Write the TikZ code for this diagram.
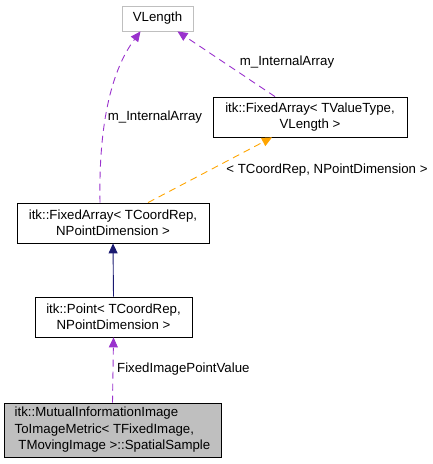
\documentclass[tikz,border=0pt]{standalone}
\usepackage{fontspec}
\setmainfont{Liberation Sans}
\usepackage{tikz}
\usetikzlibrary{arrows.meta, positioning}
\definecolor{usesC}{RGB}{154,50,205}
\definecolor{inhC}{RGB}{25,25,112}
\definecolor{tmplC}{RGB}{255,165,0}
\definecolor{boxgray}{RGB}{191,191,191}

\begin{document}
\begin{tikzpicture}[
    x=1bp,y=-1bp,
    cls/.style={draw=#1,fill=white,inner sep=0pt,line width=0.8bp,
      font=\fontsize{13.3}{16.5}\selectfont,align=center},
    cls/.default=black,
    uses/.style={-{Triangle[length=10bp,width=9bp]},usesC,line width=0.9bp,
      dash pattern=on 7bp off 5bp},
    tmpl/.style={-{Triangle[length=10bp,width=9bp]},tmplC,line width=0.9bp,
      dash pattern=on 7bp off 5bp},
    inh/.style={-{Triangle[length=10bp,width=9bp]},inhC,line width=0.9bp},
    elbl/.style={font=\fontsize{13.3}{16}\selectfont,inner sep=0pt}
  ]
  \useasboundingbox (0,0) rectangle (433,464);

  % classes
  \node[cls=boxgray,minimum width=71bp,minimum height=25bp] (vlen) at (157.5,18.5) {VLength};
  \node[cls,minimum width=194bp,minimum height=40bp] (fatv) at (310,117)
    {itk::FixedArray< TValueType,\\VLength >};
  \node[cls,minimum width=192bp,minimum height=40bp] (fatc) at (113,223)
    {itk::FixedArray< TCoordRep,\\NPointDimension >};
  \node[cls,minimum width=157bp,minimum height=40bp] (pnt) at (113.5,317)
    {itk::Point< TCoordRep,\\NPointDimension >};
  \node[cls,fill=boxgray,align=left,minimum width=217bp,minimum height=54bp] (smp) at (112.5,430)
    {itk::MutualInformationImage\\ToImageMetric< TFixedImage,\\\ TMovingImage >::SpatialSample};

  % members
  \draw[uses] ([xshift=-13bp]fatc.north) .. controls (99,150) and (104,80) .. ([xshift=-17bp]vlen.south);
  \node[elbl] (l1) at (155,117) {m\_InternalArray};
  \draw[uses] ([xshift=-35bp]fatv.north) -- ([xshift=20bp]vlen.south);
  \node[elbl] (l2) at (287,62) {m\_InternalArray};
  \draw[uses] (smp.north) -- (pnt.south);
  \node[elbl,anchor=west] (l3) at (117,369) {FixedImagePointValue};

  % template + base class
  \draw[tmpl] ([xshift=35bp]fatc.north) -- ([xshift=-38bp]fatv.south);
  \node[elbl] (l4) at (327,170) {< TCoordRep, NPointDimension >};
  \draw[inh] (pnt.north) -- (fatc.south);
\end{tikzpicture}
\end{document}
